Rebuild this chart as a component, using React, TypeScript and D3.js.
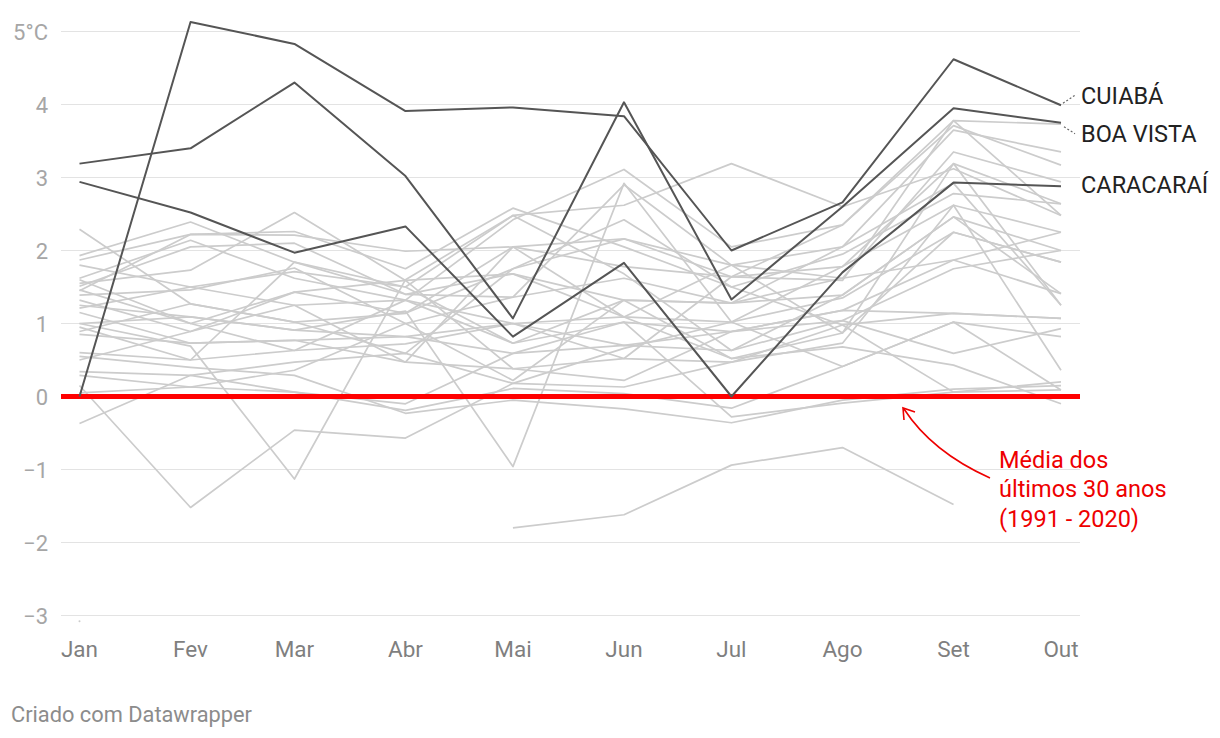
import React from "react";
import * as d3 from "d3";

const months = ["Jan", "Fev", "Mar", "Abr", "Mai", "Jun", "Jul", "Ago", "Set", "Out"];
const yTicks = [5, 4, 3, 2, 1, 0, -1, -2, -3];

// Highlighted cities
const cuiaba = [0, 5.13, 4.83, 3.91, 3.96, 3.84, 2.0, 2.66, 4.62, 3.99];
const boaVista = [3.19, 3.4, 4.3, 3.02, 1.07, 4.03, 1.33, 2.6, 3.95, 3.75];
const caracarai = [2.94, 2.52, 1.97, 2.33, 0.82, 1.83, 0, 1.7, 2.93, 2.88];

// Other stations (grey)
const g01 = [2.29, 1.27, 1.02, 0.59, 1.75, 2.16, 1.64, 1.59, 3.78, 3.73];
const g02 = [1.93, 2.39, 1.84, 1.5, 2.48, 2.62, 3.19, 2.6, 3.12, 2.48];
const g03 = [1.87, 2.22, 2.26, 1.75, 2.58, 2.05, 1.5, 1.95, 2.78, 2.64];
const g04 = [1.62, 2.14, 1.62, 1.32, 2.42, 3.11, 2.05, 2.35, 3.71, 3.17];
const g05 = [1.55, 1.73, 2.52, 1.59, 1.68, 1.32, 1.28, 1.62, 3.35, 2.94];
const g06 = [1.51, 2.05, 2.1, 1.4, 1.36, 2.9, 1.8, 2.05, 3.65, 3.35];
const g07 = [1.46, 1.0, 1.43, 1.14, 2.05, 1.78, 1.64, 1.78, 2.62, 2.25];
const g08 = [1.39, 1.46, 1.76, 1.0, 1.36, 1.62, 1.28, 1.39, 2.46, 2.0];
const g09 = [1.32, 0.89, 1.25, 1.32, 1.0, 1.09, 1.02, 1.35, 2.25, 1.84];
const g10 = [1.21, 1.5, 1.71, 1.5, 0.73, 1.02, 0.89, 1.18, 1.87, 1.41];
const g11 = [1.0, 1.09, 0.91, 0.82, 0.59, 0.7, 0.63, 1.04, 1.75, 2.0];
const g12 = [0.89, 1.27, 1.02, 1.14, 1.75, 2.42, 1.5, 0.98, 1.14, 1.07];
const g13 = [0.85, 0.73, 0.77, 0.47, 2.05, 1.09, 0.52, 0.87, 3.19, 1.25];
const g14 = [0.6, 0.5, 0.63, 0.72, 1.0, 0.52, 0.47, 0.73, 2.62, 0.36];
const g15 = [0.5, 0.89, 1.43, 1.59, 0.38, 0.22, 0.89, 1.04, 0.59, 0.93];
const g16 = [0.34, 0.29, 0.47, 0.59, 0.18, 0.66, 1.02, 0.41, 1.02, 0.82];
const g17 = [0.29, 0.13, 0.36, 1.0, 0.22, 1.32, 0.52, 0.68, 0.43, -0.1];
const g18 = [0.15, -1.52, -0.46, -0.57, 0.18, 0.13, 0.47, 0.98, 0.06, 0.2];
const g19 = [-0.37, 0.29, 0.06, -0.19, 0.11, 0.04, -0.16, 0.41, 1.02, 0.09];
const g20 = [1.0, 0.69, -1.13, 1.6, 2.48, 1.68, 0.63, 1.39, 2.46, 1.41];
const g21 = [1.25, 1.09, 0.91, 1.17, -0.96, 2.92, 1.02, 1.78, 3.19, 2.64];
const g22 = [null, null, null, null, -1.8, -1.62, -0.94, -0.7, -1.48, null];
const g23 = [0.55, 0.4, 0.29, -0.23, -0.05, -0.17, -0.36, -0.05, 0.1, 0.15];
const g24 = [1.45, 2.22, 2.21, 1.99, 2.05, 2.16, 1.8, 1.62, 1.87, 2.25];
const g25 = [1.6, 1.0, 0.63, 1.32, 0.73, 1.32, 1.28, 2.05, 2.92, 1.25];
const g26 = [0.05, 0.13, 0.06, -0.1, 0.59, 1.02, -0.28, -0.09, 0.06, 0.09];
const g27 = [1.15, 0.73, 0.77, 0.82, 1.0, 0.7, 0.89, 1.18, 1.14, 1.07];
const g28 = [1.8, 1.5, 1.25, 0.47, 0.38, 0.52, 1.64, 2.35, 3.78, 2.48];
const g29 = [0.95, 0.5, 1.84, 1.4, 1.68, 1.09, 1.8, 0.87, 2.25, 1.84];
const g30 = [-3.08, null, null, null, null, null, null, null, null, null];

const greySeries = [g01, g02, g03, g04, g05, g06, g07, g08, g09, g10, g11, g12, g13, g14, g15,
  g16, g17, g18, g19, g20, g21, g22, g23, g24, g25, g26, g27, g28, g29, g30];

const highlightNames = ["CUIABÁ", "BOA VISTA", "CARACARAÍ"];
const highlightSeries = [cuiaba, boaVista, caracarai];

const annotationLines = ["Média dos", "últimos 30 anos", "(1991 - 2020)"];
const footer = "Criado com Datawrapper";

const W = 1220;
const H = 738;
const FONT = "Roboto, 'Noto Sans', sans-serif";

export default function App() {
  const dates = months.map((_, i) => new Date(2024, i, 1));
  const x = d3.scaleTime().domain([dates[0], dates[dates.length - 1]]).range([79.5, 1061]);
  const y = d3.scaleLinear().domain([-3, 5]).range([615.5, 31.5]);
  const gridX0 = 61;
  const gridX1 = 1080;

  const line = d3
    .line<number | null>()
    .defined((d) => d !== null && d !== undefined)
    .x((_, i) => x(dates[i]))
    .y((d) => y(d as number));

  const isolated = (s: (number | null)[]) =>
    s
      .map((v, i) => ({ v, i }))
      .filter(({ v, i }) => v !== null && (i === 0 || s[i - 1] === null) && (i === s.length - 1 || s[i + 1] === null));

  const labelY = [104, 141.5, 193];
  const labelX = 1081;

  return (
    <svg width={W} height={H} style={{ position: "absolute", left: 0, top: 0, background: "#fff" }} fontFamily={FONT}>
      {yTicks.map((t) => (
        <g key={t}>
          <line x1={gridX0} x2={gridX1} y1={y(t)} y2={y(t)} stroke="#e3e3e3" strokeWidth={1.2} />
          <text x={48} y={y(t) + 8} textAnchor="end" fontSize={22} fill="#a6a6a6">
            {t === 5 ? "5°C" : t < 0 ? "\u2212" + Math.abs(t) : String(t)}
          </text>
        </g>
      ))}
      {months.map((m, i) => (
        <text key={m} x={x(dates[i])} y={657} textAnchor="middle" fontSize={22.5} fill="#7f7f7f">
          {m}
        </text>
      ))}
      {greySeries.map((s, k) => (
        <g key={k}>
          <path d={line(s) || ""} fill="none" stroke="#cccccc" strokeWidth={1.7} strokeLinejoin="round" />
          {isolated(s).map(({ v, i }) => (
            <circle key={i} cx={x(dates[i])} cy={y(v as number)} r={1} fill="#cccccc" />
          ))}
        </g>
      ))}
      <line x1={gridX0} x2={gridX1} y1={y(0)} y2={y(0)} stroke="#ff0000" strokeWidth={5} />
      {highlightSeries.map((s, k) => (
        <path key={k} d={line(s) || ""} fill="none" stroke="#555555" strokeWidth={2} strokeLinejoin="round" />
      ))}
      <path d={`M${x(dates[9]) + 2},${y(cuiaba[9]) - 2} L${x(dates[9]) + 14},${y(cuiaba[9]) - 10}`} stroke="#666" strokeWidth={1.2} strokeDasharray="2,2" fill="none" />
      <path d={`M${x(dates[9]) + 3},${y(boaVista[9]) + 4} L${x(dates[9]) + 14},${y(boaVista[9]) + 11}`} stroke="#666" strokeWidth={1.2} strokeDasharray="2,2" fill="none" />
      {highlightNames.map((n, k) => (
        <text key={n} x={labelX} y={labelY[k]} fontSize={23.5} fill="#222">
          {n}
        </text>
      ))}
      <path d="M990,478 Q932,452 904,409" fill="none" stroke="#ee0000" strokeWidth={1.6} />
      <path d="M915,412 L903,408 L904,420" fill="none" stroke="#ee0000" strokeWidth={1.6} />
      {annotationLines.map((t, i) => (
        <text key={i} x={999} y={468 + i * 29.3} fontSize={23.5} fill="#ee0000">
          {t}
        </text>
      ))}
      <text x={11} y={722} fontSize={21.8} fill="#8c8c8c">
        {footer}
      </text>
    </svg>
  );
}
